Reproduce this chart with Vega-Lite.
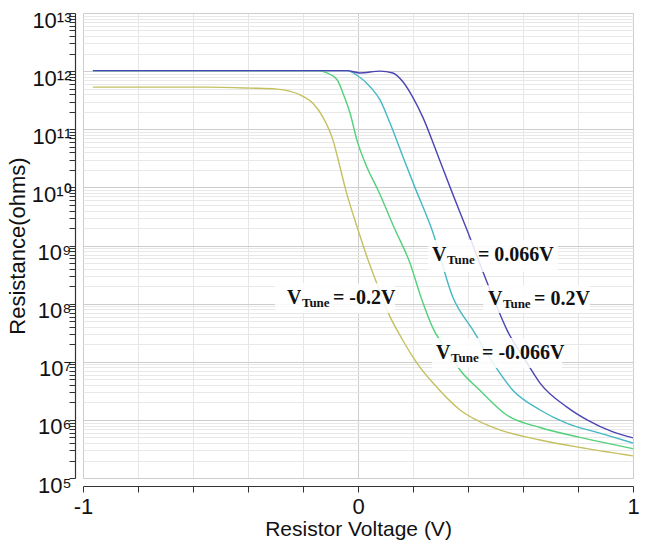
{
  "$schema": "https://vega.github.io/schema/vega-lite/v6.json",
  "autosize": "none",
  "width": 550,
  "height": 465,
  "padding": {"left": 83, "top": 13, "right": 17, "bottom": 71},
  "background": "white",
  "config": {"view": {"stroke": null}},
  "datasets": {
    "curves": [
      {"v": -0.964, "r": 5.3e11, "s": "-0.2"},
      {"v": -0.549, "r": 5.3e11, "s": "-0.2"},
      {"v": -0.393, "r": 5.1e11, "s": "-0.2"},
      {"v": -0.295, "r": 4.9e11, "s": "-0.2"},
      {"v": -0.211, "r": 3.9e11, "s": "-0.2"},
      {"v": -0.164, "r": 2.8e11, "s": "-0.2"},
      {"v": -0.127, "r": 1.6e11, "s": "-0.2"},
      {"v": -0.091, "r": 6.5e10, "s": "-0.2"},
      {"v": -0.065, "r": 2.2e10, "s": "-0.2"},
      {"v": -0.047, "r": 1.0e10, "s": "-0.2"},
      {"v": 0.0, "r": 1.86e9, "s": "-0.2"},
      {"v": 0.033, "r": 6.3e8, "s": "-0.2"},
      {"v": 0.069, "r": 2.2e8, "s": "-0.2"},
      {"v": 0.105, "r": 7.8e7, "s": "-0.2"},
      {"v": 0.164, "r": 2.3e7, "s": "-0.2"},
      {"v": 0.2, "r": 1.2e7, "s": "-0.2"},
      {"v": 0.225, "r": 8.1e6, "s": "-0.2"},
      {"v": 0.273, "r": 4.3e6, "s": "-0.2"},
      {"v": 0.371, "r": 1.48e6, "s": "-0.2"},
      {"v": 0.491, "r": 7.4e5, "s": "-0.2"},
      {"v": 0.662, "r": 4.5e5, "s": "-0.2"},
      {"v": 0.833, "r": 3.2e5, "s": "-0.2"},
      {"v": 1.0, "r": 2.4e5, "s": "-0.2"},

      {"v": -0.964, "r": 1.02e12, "s": "-0.066"},
      {"v": -0.149, "r": 1.02e12, "s": "-0.066"},
      {"v": -0.113, "r": 9.3e11, "s": "-0.066"},
      {"v": -0.076, "r": 7.1e11, "s": "-0.066"},
      {"v": -0.055, "r": 4.2e11, "s": "-0.066"},
      {"v": -0.029, "r": 1.9e11, "s": "-0.066"},
      {"v": -0.004, "r": 6.5e10, "s": "-0.066"},
      {"v": 0.033, "r": 2.2e10, "s": "-0.066"},
      {"v": 0.073, "r": 8.9e9, "s": "-0.066"},
      {"v": 0.135, "r": 1.86e9, "s": "-0.066"},
      {"v": 0.189, "r": 5.0e8, "s": "-0.066"},
      {"v": 0.229, "r": 1.29e8, "s": "-0.066"},
      {"v": 0.276, "r": 3.5e7, "s": "-0.066"},
      {"v": 0.324, "r": 1.58e7, "s": "-0.066"},
      {"v": 0.371, "r": 7.2e6, "s": "-0.066"},
      {"v": 0.444, "r": 3.2e6, "s": "-0.066"},
      {"v": 0.542, "r": 1.2e6, "s": "-0.066"},
      {"v": 0.662, "r": 7.4e5, "s": "-0.066"},
      {"v": 0.807, "r": 5.0e5, "s": "-0.066"},
      {"v": 1.0, "r": 3.2e5, "s": "-0.066"},

      {"v": -0.964, "r": 1.02e12, "s": "0.066"},
      {"v": -0.04, "r": 1.02e12, "s": "0.066"},
      {"v": -0.004, "r": 8.5e11, "s": "0.066"},
      {"v": 0.044, "r": 5.4e11, "s": "0.066"},
      {"v": 0.08, "r": 3.2e11, "s": "0.066"},
      {"v": 0.116, "r": 1.29e11, "s": "0.066"},
      {"v": 0.164, "r": 3.3e10, "s": "0.066"},
      {"v": 0.207, "r": 1.0e10, "s": "0.066"},
      {"v": 0.269, "r": 1.86e9, "s": "0.066"},
      {"v": 0.345, "r": 1.29e8, "s": "0.066"},
      {"v": 0.418, "r": 3.5e7, "s": "0.066"},
      {"v": 0.491, "r": 9.5e6, "s": "0.066"},
      {"v": 0.564, "r": 3.2e6, "s": "0.066"},
      {"v": 0.662, "r": 1.48e6, "s": "0.066"},
      {"v": 0.76, "r": 8.7e5, "s": "0.066"},
      {"v": 0.88, "r": 5.9e5, "s": "0.066"},
      {"v": 1.0, "r": 4.0e5, "s": "0.066"},

      {"v": -0.964, "r": 1.02e12, "s": "0.2"},
      {"v": -0.04, "r": 1.02e12, "s": "0.2"},
      {"v": 0.007, "r": 9.3e11, "s": "0.2"},
      {"v": 0.08, "r": 1.0e12, "s": "0.2"},
      {"v": 0.127, "r": 9.3e11, "s": "0.2"},
      {"v": 0.164, "r": 6.5e11, "s": "0.2"},
      {"v": 0.2, "r": 3.5e11, "s": "0.2"},
      {"v": 0.236, "r": 1.6e11, "s": "0.2"},
      {"v": 0.287, "r": 3.9e10, "s": "0.2"},
      {"v": 0.335, "r": 1.0e10, "s": "0.2"},
      {"v": 0.396, "r": 1.86e9, "s": "0.2"},
      {"v": 0.491, "r": 1.29e8, "s": "0.2"},
      {"v": 0.542, "r": 3.5e7, "s": "0.2"},
      {"v": 0.615, "r": 9.5e6, "s": "0.2"},
      {"v": 0.662, "r": 4.3e6, "s": "0.2"},
      {"v": 0.76, "r": 1.66e6, "s": "0.2"},
      {"v": 0.833, "r": 1.0e6, "s": "0.2"},
      {"v": 0.927, "r": 6.2e5, "s": "0.2"},
      {"v": 1.0, "r": 4.9e5, "s": "0.2"}
    ],
    "boxes": [
      {"x1": 0.255, "x2": 0.727, "y1": 1.24e9, "y2": 3.5e8},
      {"x1": -0.302, "x2": 0.135, "y1": 2.25e8, "y2": 6.9e7},
      {"x1": 0.455, "x2": 0.844, "y1": 2.08e8, "y2": 6.9e7},
      {"x1": 0.269, "x2": 0.742, "y1": 2.55e7, "y2": 7.8e6}
    ],
    "labels": [
      {"x": 0.269, "y": 6.84e8, "t": "V", "k": "big"},
      {"x": 0.324, "y": 5.6e8, "t": "Tune", "k": "sub"},
      {"x": 0.436, "y": 6.84e8, "t": "= 0.066V", "k": "big"},
      {"x": -0.258, "y": 1.245e8, "t": "V", "k": "big"},
      {"x": -0.204, "y": 1.02e8, "t": "Tune", "k": "sub"},
      {"x": -0.091, "y": 1.245e8, "t": "= -0.2V", "k": "big"},
      {"x": 0.473, "y": 1.19e8, "t": "V", "k": "big"},
      {"x": 0.527, "y": 9.8e7, "t": "Tune", "k": "sub"},
      {"x": 0.64, "y": 1.19e8, "t": "= 0.2V", "k": "big"},
      {"x": 0.284, "y": 1.41e7, "t": "V", "k": "big"},
      {"x": 0.338, "y": 1.15e7, "t": "Tune", "k": "sub"},
      {"x": 0.451, "y": 1.41e7, "t": "= -0.066V", "k": "big"}
    ]
  },
  "layer": [
    {
      "data": {"name": "curves"},
      "mark": {"type": "line", "strokeWidth": 1.4, "interpolate": "monotone", "clip": true},
      "encoding": {
        "x": {
          "field": "v", "type": "quantitative",
          "scale": {"domain": [-1, 1], "nice": false, "zero": false},
          "axis": {
            "title": "Resistor Voltage (V)",
            "values": [-1, -0.95, -0.9, -0.85, -0.8, -0.75, -0.7, -0.65, -0.6, -0.55, -0.5, -0.45, -0.4, -0.35, -0.3, -0.25, -0.2, -0.15, -0.1, -0.05, 0, 0.05, 0.1, 0.15, 0.2, 0.25, 0.3, 0.35, 0.4, 0.45, 0.5, 0.55, 0.6, 0.65, 0.7, 0.75, 0.8, 0.85, 0.9, 0.95, 1],
            "labelExpr": "abs(datum.value*2 - round(datum.value*2)) < 0.001 ? ['-1','-.5','0','.5','1'][round(datum.value*2)+2] : ''",
            "labelOverlap": false,
            "labelFont": "Liberation Sans",
            "labelFontSize": 22,
            "labelColor": "#111",
            "labelPadding": 4,
            "labelFlush": false,
            "offset": 8,
            "domainColor": "#333",
            "domainWidth": 1.2,
            "ticks": true,
            "tickColor": "#333",
            "tickWidth": 1,
            "tickSize": 6,
            "grid": true,
            "gridColor": {"condition": {"test": "abs(datum.value*2 - round(datum.value*2)) < 0.001", "value": "#cdcdcd"}, "value": "#e6e6e6"},
            "gridWidth": 1,
            "titleFont": "Liberation Sans",
            "titleFontSize": 21,
            "titleFontWeight": "normal",
            "titleColor": "#111",
            "titlePadding": 1
          }
        },
        "y": {
          "field": "r", "type": "quantitative",
          "scale": {"type": "log", "domain": [1e5, 1e13], "nice": false},
          "axis": {
            "title": "Resistance(ohms)",
            "values": [1e5, 2e5, 3e5, 4e5, 5e5, 6e5, 7e5, 8e5, 9e5,
                       1e6, 2e6, 3e6, 4e6, 5e6, 6e6, 7e6, 8e6, 9e6,
                       1e7, 2e7, 3e7, 4e7, 5e7, 6e7, 7e7, 8e7, 9e7,
                       1e8, 2e8, 3e8, 4e8, 5e8, 6e8, 7e8, 8e8, 9e8,
                       1e9, 2e9, 3e9, 4e9, 5e9, 6e9, 7e9, 8e9, 9e9,
                       1e10, 2e10, 3e10, 4e10, 5e10, 6e10, 7e10, 8e10, 9e10,
                       1e11, 2e11, 3e11, 4e11, 5e11, 6e11, 7e11, 8e11, 9e11,
                       1e12, 2e12, 3e12, 4e12, 5e12, 6e12, 7e12, 8e12, 9e12, 1e13],
            "labelExpr": "abs(log(datum.value)/LN10 - round(log(datum.value)/LN10)) < 0.001 ? ['10⁵','10⁶','10⁷','10⁸','10⁹','10¹⁰','10¹¹','10¹²','10¹³'][round(log(datum.value)/LN10)-5] : ''",
            "labelOverlap": false,
            "labelFont": "Liberation Sans",
            "labelFontSize": 22,
            "labelColor": "#111",
            "labelPadding": -2,
            "labelOffset": 7,
            "labelFlush": false,
            "offset": 8,
            "domainColor": "#333",
            "domainWidth": 1.2,
            "ticks": true,
            "tickColor": "#333",
            "tickWidth": 1,
            "tickSize": 6,
            "grid": true,
            "gridColor": {"condition": {"test": "abs(log(datum.value)/LN10 - round(log(datum.value)/LN10)) < 0.001", "value": "#cdcdcd"}, "value": "#e8e8e8"},
            "gridWidth": 1,
            "titleFont": "Liberation Sans",
            "titleFontSize": 22,
            "titleFontWeight": "normal",
            "titleColor": "#111",
            "titlePadding": 2
          }
        },
        "color": {
          "field": "s", "type": "nominal",
          "scale": {"domain": ["-0.2", "-0.066", "0.066", "0.2"], "range": ["#c4c060", "#52d07a", "#44b8c4", "#4a44b4"]},
          "legend": null
        },
        "order": {"field": "s", "sort": "ascending"}
      }
    },
    {
      "data": {"name": "boxes"},
      "mark": {"type": "rect", "color": "white", "opacity": 0.85},
      "encoding": {
        "x": {"field": "x1", "type": "quantitative"},
        "x2": {"field": "x2"},
        "y": {"field": "y1", "type": "quantitative"},
        "y2": {"field": "y2"}
      }
    },
    {
      "data": {"name": "labels"},
      "mark": {"type": "text", "font": "Liberation Serif", "fontWeight": "bold", "align": "left", "baseline": "middle", "color": "#111"},
      "encoding": {
        "x": {"field": "x", "type": "quantitative"},
        "y": {"field": "y", "type": "quantitative"},
        "text": {"field": "t"},
        "size": {
          "field": "k", "type": "nominal",
          "scale": {"domain": ["big", "sub"], "range": [20, 13]},
          "legend": null
        }
      }
    }
  ]
}
